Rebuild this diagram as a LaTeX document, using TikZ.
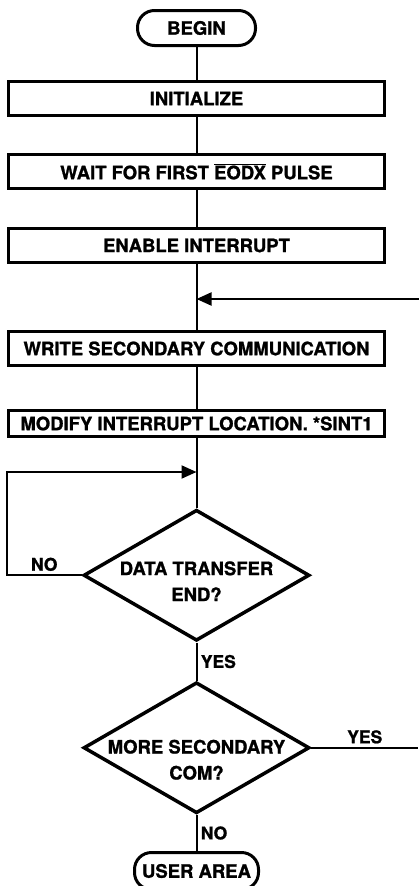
\documentclass[tikz,border=0pt]{standalone}
\usepackage{fontspec}
\setmainfont{TeX Gyre Heros}[BoldFeatures={FakeBold=1.2}]
\usetikzlibrary{arrows.meta,positioning,shapes.geometric}

\begin{document}
\begin{tikzpicture}[
    x=1pt, y=-1pt,
    font=\fontsize{18.5}{21}\selectfont\bfseries,
    term/.style={draw, line width=3pt, rounded corners=17pt, minimum width=118pt,
      minimum height=35pt, inner sep=2pt},
    stepbox/.style={draw, line width=3pt, minimum width=376pt, minimum height=34pt,
      inner sep=2pt},
    decision/.style={draw, diamond, line width=3.5pt, aspect=1.71, minimum width=226pt,
      minimum height=131pt, inner sep=0pt},
    qtext/.style={align=center, font=\fontsize{18.5}{26}\selectfont\bfseries},
    flow/.style={line width=2pt},
    arrow/.style={flow, -{Triangle[length=15pt, width=13pt]}},
    tag/.style={font=\fontsize{17.5}{20}\selectfont\bfseries}
  ]
    \useasboundingbox (0,0) rectangle (419,886);

    \node[term] (begin) at (196.5,28) {BEGIN};
    \node[stepbox, below=33pt of begin] (init) {INITIALIZE};
    \node[stepbox, below=36pt of init] (wait) {WAIT FOR FIRST $\overline{\hbox{EODX}}$ PULSE};
    \node[stepbox, below=37pt of wait] (enable) {ENABLE INTERRUPT};
    \node[stepbox, below=66pt of enable] (write) {WRITE SECONDARY COMMUNICATION};
    \node[stepbox, minimum height=26pt, below=42pt of write] (modify) {MODIFY INTERRUPT LOCATION. *SINT1};
    \node[decision, below=70pt of modify,
      label={[qtext, yshift=-6pt]center:DATA TRANSFER\\END?}] (xferend) {};
    \node[decision, below=38pt of xferend,
      label={[qtext, yshift=-12pt]center:MORE SECONDARY\\COM?}] (morecom) {};
    \node[term, minimum width=124pt, minimum height=37pt, below=36pt of morecom] (user) {USER AREA};

    \coordinate (join) at ([yshift=-35pt]enable.south);
    \coordinate (loopin) at ([yshift=-34pt]modify.south);
    \path (join) ++(222.5,0) coordinate (back);

    \draw[flow] (begin) -- (init);
    \draw[flow] (init) -- (wait);
    \draw[flow] (wait) -- (enable);
    \draw[flow] (enable) -- (write);
    \draw[arrow] (back) -- (join);
    \draw[flow] (write) -- (modify);
    \draw[flow] (modify) -- (xferend);
    \draw[arrow] (xferend.west) -- ++(-75,0) node[tag, midway, above] {NO} |- (loopin);
    \draw[flow] (xferend) -- node[tag, right] {YES} (morecom);
    \draw[flow] (morecom.east) -- ++(107,0) node[tag, midway, above] {YES};
    \draw[flow] (morecom) -- node[tag, right] {NO} (user);
  \end{tikzpicture}
\end{document}
